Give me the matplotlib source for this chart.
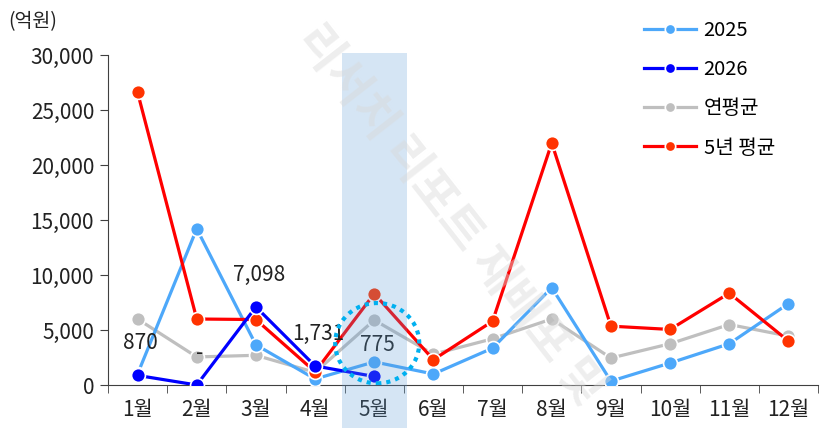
import matplotlib.pyplot as plt
from matplotlib.patches import Rectangle, Ellipse
import matplotlib.transforms as mtransforms

plt.rcParams['font.family'] = ['Noto Sans CJK KR', 'DejaVu Sans']

months = ['1월', '2월', '3월', '4월', '5월', '6월', '7월', '8월', '9월', '10월', '11월', '12월']
y2025 = [1000, 14200, 3650, 550, 2100, 1000, 3350, 8850, 350, 2000, 3750, 7400]
y2026 = [870, 0, 7098, 1731, 775]
avg_year = [6000, 2550, 2700, 1150, 5900, 2800, 4200, 6000, 2450, 3750, 5500, 4450]
avg_5yr = [26600, 6000, 5950, 1200, 8300, 2300, 5800, 22000, 5350, 5050, 8350, 4000]
labels_2026 = ['870', '-', '7,098', '1,731', '775']

fig = plt.figure(figsize=(8.22, 4.28), dpi=100)
ax = fig.add_axes([108 / 822, 1 - 385 / 428, 710 / 822, 330 / 428])

x = list(range(12))
x26 = list(range(len(y2026)))

def draw(xs, ys, lc, mc, label, z):
    ax.plot(xs, ys, color=lc, lw=2.3, marker='o', ms=10, mfc=mc, mec='white',
            mew=1.2, label=label, zorder=z)

draw(x, y2025, '#4DA8FA', '#4DA8FA', '2025', 3)
draw(x, avg_year, '#BFBFBF', '#BFBFBF', '연평균', 2)
draw(x, avg_5yr, '#FF0000', '#FF3300', '5년 평균', 4)
draw(x26, y2026, '#0000FF', '#0000FF', '2026', 5)
# legend order
h, l = ax.get_legend_handles_labels()
order = [0, 3, 1, 2]
leg = ax.legend([h[i] for i in order], [l[i] for i in order], loc='upper left',
                bbox_to_anchor=(626 / 822, 1 - 2 / 428), bbox_transform=fig.transFigure,
                frameon=False, fontsize=14.5, handlelength=2.6, labelspacing=0.9,
                handletextpad=0.35, markerscale=0.75)

for xi, yi, t in zip(x26, y2026, labels_2026):
    ax.annotate(t, (xi, yi), xytext=(2, 23), textcoords='offset points',
                ha='center', va='center', fontsize=15, color='#222222', zorder=6)

ax.set_xlim(-0.5, 11.5)
ax.set_ylim(0, 30000)
ax.set_yticks(range(0, 30001, 5000))
ax.set_yticklabels([f'{v:,}' for v in range(0, 30001, 5000)], fontsize=15, color='#222222')
ax.set_xticks(x)
ax.set_xticklabels(months, fontsize=15, color='#222222')
ax.tick_params(axis='x', length=0, pad=10)
ax.set_xticks([i - 0.5 for i in range(13)], minor=True)
ax.tick_params(axis='x', which='minor', length=6, direction='out', color='#404040')
ax.tick_params(axis='y', length=6, color='#404040', pad=4)
for s in ['top', 'right']:
    ax.spines[s].set_visible(False)
ax.spines['left'].set_color('#404040')
ax.spines['bottom'].set_color('#404040')

# highlight band for May
trans = mtransforms.blended_transform_factory(ax.transData, fig.transFigure)
ax.add_patch(Rectangle((3.46, 0), 1.1, 1 - 53 / 428, transform=trans,
                       facecolor='#5B9BD5', alpha=0.25, edgecolor='none',
                       clip_on=False, zorder=7))

# dotted circle
ax.add_patch(Ellipse((4.05, 3800), 1.42, 7300, fill=False, edgecolor='#00B0F0',
                     linestyle=(0, (1, 1.2)), lw=3, zorder=8))

fig.text(8 / 822, 1 - 22 / 428, '(억원)', fontsize=14, color='#222222', va='center')

# watermark
fig.text(450 / 822, 1 - 215 / 428, '리서치 리포트 재배포 및', fontsize=34,
         fontweight='bold', color='#D9D9D9', alpha=0.45, rotation=-52,
         ha='center', va='center', zorder=10)

fig.savefig('out.png', dpi=100)
